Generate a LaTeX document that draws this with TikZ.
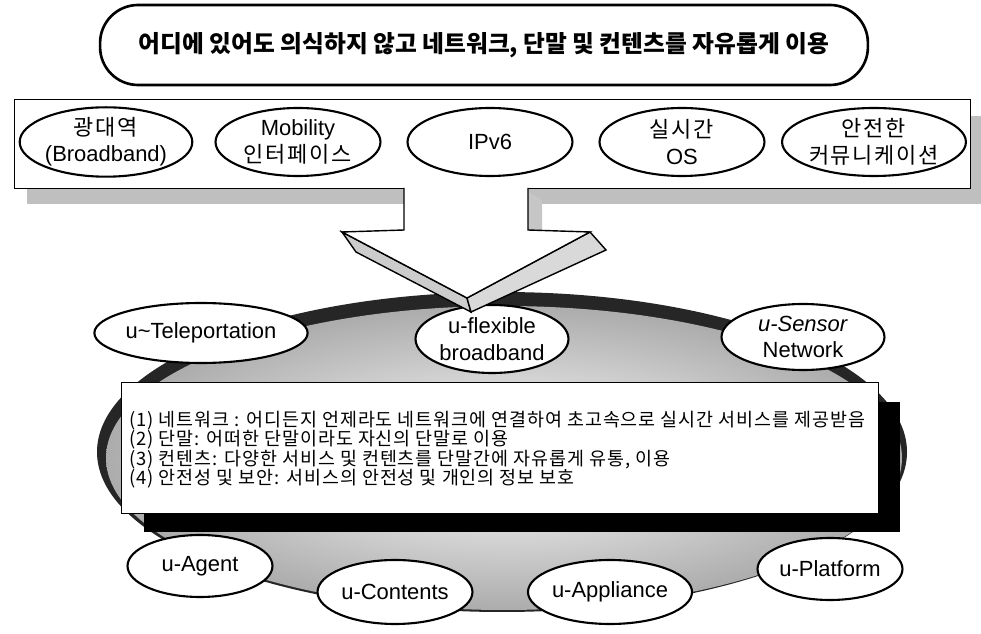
\documentclass[tikz,border=0pt]{standalone}
\usepackage{fontspec}
\setmainfont{Liberation Sans}
\newfontfamily\kr{Noto Sans CJK KR}
\newfontfamily\krsp{Noto Sans CJK KR}[LetterSpace=8]
\newfontfamily\krtx{Noto Sans CJK KR}[LetterSpace=5]
\usetikzlibrary{shapes.geometric}

\tikzset{
  oval/.style={ellipse, draw, line width=1.2pt, fill=white, inner sep=0pt,
    align=center, font=\fontsize{12.5}{15}\selectfont},
  bandoval/.style={oval, minimum width=3.3cm, minimum height=1.36cm},
  shade box/.style={fill=gray!50, draw=none},
}

\begin{document}
\begin{tikzpicture}[x=0.02cm,y=-0.02cm]
  \useasboundingbox (0,0) rectangle (981,634);
  % goal
  \node[draw, line width=1.5pt, rounded corners=0.76cm, minimum width=15.36cm,
    minimum height=1.6cm] (goal) at (484,45)
    {\kr\bfseries\fontsize{13.5}{16}\selectfont 어디에 있어도 의식하지 않고 네트워크, 단말 및 컨텐츠를 자유롭게 이용};
  % technologies
  \node[minimum width=19.1cm, minimum height=1.76cm] (band) at (492.5,144) {};
  \fill[shade box] ([shift={(12,16)}]band.south west) rectangle ([shift={(12,16)}]band.north east);
  \draw[fill=white, line width=0.8pt] (band.south west) rectangle (band.north east);
  \node[bandoval] (bb) at (106,142) {\krsp 광대역\\(Broadband)};
  \node[bandoval] (mob) at (298,142) {Mobility\\\krsp 인터페이스};
  \node[bandoval] (ipv) at (490,142) {IPv6};
  \node[bandoval] (rtos) at (682,142) {\krsp 실시간\\OS};
  \node[bandoval] (sec) at (874,142) {\krsp 안전한\\\krsp 커뮤니케이션};
  % ring
  \fill[black!85] (502,452) ellipse (405 and 160);
  \shade[inner color=white, outer color=gray!65] (504,458) ellipse (398 and 152);
  \node[oval, minimum width=3.24cm, minimum height=1.2cm] (tele) at (201,333) {u\textasciitilde Teleportation};
  \node[oval, minimum width=3.06cm, minimum height=1.36cm] (flex) at (492,339) {u-flexible\\broadband};
  \node[oval, minimum width=3.26cm, minimum height=1.32cm] (sens) at (803,337) {\textit{u-Sensor}\\Network};
  % description
  \node[minimum width=15.12cm, minimum height=2.6cm] (info) at (500,448) {};
  \fill[black] ([shift={(22,19)}]info.south west) rectangle ([shift={(22,19)}]info.north east);
  \draw[fill=white, line width=0.6pt] (info.south west) rectangle (info.north east);
  \node[anchor=north west, align=left, inner sep=0pt,
    font=\krtx\fontsize{10.5}{11}\selectfont] (text) at (129,411)
    {(1) 네트워크 : 어디든지 언제라도 네트워크에 연결하여 초고속으로 실시간 서비스를 제공받음\\
     (2) 단말: 어떠한 단말이라도 자신의 단말로 이용\\
     (3) 컨텐츠: 다양한 서비스 및 컨텐츠를 단말간에 자유롭게 유통, 이용\\
     (4) 안전성 및 보안: 서비스의 안전성 및 개인의 정보 보호};
  % bottom
  \node[oval, minimum width=2.9cm, minimum height=1.24cm] (agent) at (200,566) {u-Agent};
  \node[oval, minimum width=3.1cm, minimum height=1.28cm] (cont) at (395,592) {u-Contents};
  \node[oval, minimum width=3.04cm, minimum height=1.28cm] (appl) at (610,592) {u-Appliance};
  \node[oval, minimum width=2.9cm, minimum height=1.24cm] (plat) at (830,569) {u-Platform};
  % arrow
  \fill[gray!45] (528,192) -- (542,200) -- (542,230) -- (528,230) -- cycle;
  \filldraw[fill=gray!40, line width=0.8pt] (342,232) -- (356,252) -- (471,312) -- (467,298) -- cycle;
  \filldraw[fill=gray!30, line width=0.8pt] (590,232) -- (606,250) -- (471,312) -- (467,298) -- cycle;
  \filldraw[fill=white, line width=0.8pt] (404,188) -- (404,230) -- (342,232) -- (467,298)
    -- (590,232) -- (528,230) -- (528,188);
\end{tikzpicture}
\end{document}
